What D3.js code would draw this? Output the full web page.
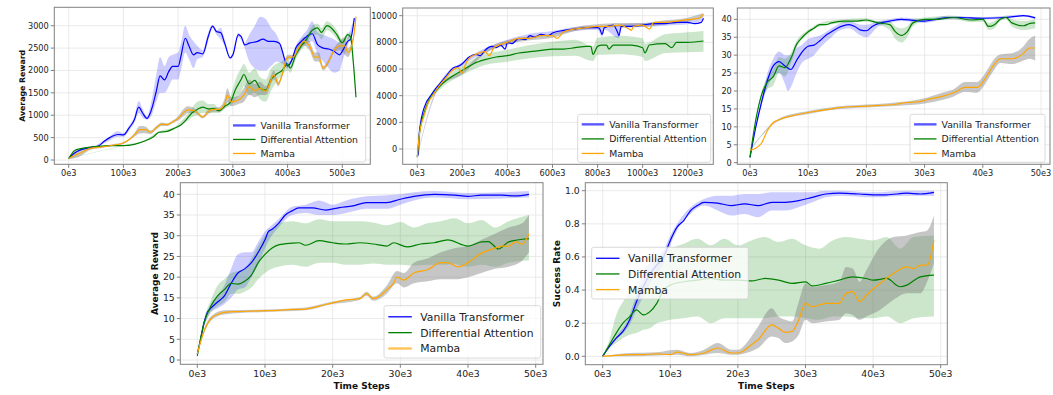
<!DOCTYPE html>
<html>
<head>
<meta charset="utf-8">
<script src="https://cdn.jsdelivr.net/npm/d3@7"></script>
<style>
  body { margin: 0; background: #fff; }
  svg { font-family: "DejaVu Sans", sans-serif; }
</style>
</head>
<body>
<div id="chart"></div>
<script>
// series names
const seriesNames = ["Vanilla Transformer", "Differential Attention", "Mamba"];

// ---- panel 1 (steps in thousands) ----
const p1Vanilla = [[0,30],[10,150],[20,220],[40,280],[55,320],[65,420],[75,500],[90,570],[100,560],[110,710],[120,900],[128,1180],[135,1050],[143,930],[150,1080],[160,1530],[167,1880],[175,1790],[183,1980],[190,2090],[200,2090],[205,2310],[213,2720],[220,2540],[228,2350],[235,2400],[245,2370],[255,2760],[263,2990],[270,2870],[278,2840],[285,2610],[295,2280],[300,2350],[310,2800],[315,2760],[322,2570],[330,2610],[345,2650],[355,2700],[365,2650],[375,2650],[385,2610],[395,2240],[400,2100],[408,2240],[415,2500],[425,2650],[435,2760],[445,2820],[455,2570],[465,2500],[475,2480],[485,2430],[495,2350],[500,2430],[510,2650],[515,2700],[522,3170]];
const p1VanillaBand = [[0,20,40],[20,200,240],[50,290,330],[70,400,480],[90,520,640],[100,520,600],[110,650,760],[120,830,980],[128,1050,1320],[135,950,1150],[143,900,970],[150,960,1250],[160,1300,1900],[167,1500,2300],[175,1500,2100],[183,1650,2300],[190,1800,2350],[200,1800,2400],[205,2000,2600],[213,2400,3000],[220,2250,2800],[228,2050,2650],[235,2250,2550],[245,2300,2450],[255,2650,2850],[263,2950,3020],[270,2800,2900],[278,2700,2950],[285,2550,2700],[295,2250,2310],[300,2300,2400],[310,2750,2850],[320,2550,2600],[330,2200,2800],[340,2050,3000],[350,2000,3200],[360,2000,3150],[370,2100,2950],[380,2200,2800],[390,2150,2500],[400,2050,2150],[408,2200,2300],[415,2450,2550],[425,2550,2750],[435,2600,2900],[445,2650,3100],[455,2350,2850],[465,2200,2800],[475,2050,2750],[485,1950,2700],[495,2000,2600],[500,2200,2550],[510,2550,2750],[522,3150,3200]];
const p1Diff = [[0,30],[10,200],[20,250],[40,290],[60,310],[80,320],[100,320],[120,350],[140,430],[155,520],[165,620],[180,640],[195,720],[205,780],[215,900],[225,1050],[235,1130],[245,1180],[255,1140],[265,1150],[275,1100],[285,1200],[295,1280],[305,1580],[315,1800],[320,1910],[330,1700],[340,1780],[350,1600],[360,1560],[370,1800],[380,1920],[390,2000],[400,2150],[405,2050],[415,2350],[425,2550],[435,2700],[445,2900],[455,2950],[462,2850],[472,3000],[480,2950],[490,2800],[500,2620],[510,2800],[515,2750],[520,2200],[525,1400]];
const p1DiffBand = [[0,20,40],[100,310,330],[140,410,450],[165,600,640],[195,690,750],[215,850,1000],[225,950,1150],[235,1000,1300],[245,1050,1330],[255,1050,1250],[265,1050,1250],[275,1050,1150],[285,1150,1250],[295,1200,1400],[305,1350,1800],[315,1500,2050],[320,1650,2150],[330,1450,1950],[340,1500,2050],[350,1350,1850],[360,1300,1800],[370,1550,2050],[380,1750,2150],[390,1900,2200],[400,2000,2300],[405,1950,2200],[415,2250,2450],[425,2450,2650],[435,2600,2800],[445,2800,3000],[455,2800,3050],[462,2700,2950],[472,2900,3100],[480,2850,3050],[490,2700,2900],[500,2550,2700],[510,2700,2850],[515,2650,2850],[520,2100,2300],[525,1300,1500]];
const p1Mamba = [[0,30],[10,100],[20,150],[40,260],[60,290],[80,330],[100,380],[110,450],[120,560],[130,680],[140,680],[150,620],[160,720],[170,800],[180,790],[190,850],[200,930],[210,1060],[218,1120],[230,1100],[245,960],[255,1080],[265,1130],[275,1130],[285,1250],[290,1450],[297,1300],[310,1340],[320,1450],[330,1640],[340,1550],[350,1600],[360,1540],[375,1900],[383,1700],[390,1900],[400,2300],[410,2300],[420,2500],[430,2650],[440,2550],[450,2300],[457,2300],[465,2050],[475,2200],[485,2450],[495,2550],[505,2550],[510,2400],[520,2700],[525,3200]];
const p1MambaBand = [[0,20,40],[20,80,220],[40,230,290],[60,270,310],[80,310,350],[100,360,400],[120,520,600],[130,590,760],[140,600,750],[150,580,660],[160,680,760],[170,760,840],[180,760,820],[190,820,880],[200,880,980],[210,980,1140],[218,1050,1200],[230,1050,1150],[245,930,990],[255,1030,1130],[265,1080,1180],[275,1080,1180],[285,1150,1380],[290,1300,1600],[297,1200,1400],[310,1250,1430],[320,1300,1600],[330,1450,1800],[340,1400,1700],[350,1450,1750],[360,1450,1650],[375,1800,2000],[383,1650,1750],[390,1850,1950],[400,2250,2350],[410,2250,2350],[420,2400,2600],[430,2550,2750],[440,2450,2650],[450,2200,2400],[457,2200,2400],[465,2000,2100],[475,2150,2250],[485,2400,2500],[495,2450,2650],[505,2350,2750],[510,2300,2500],[520,2650,2750],[525,3150,3250]];

// ---- panel 2 ----
const p2Vanilla = [[0,-600],[5,-300],[8,1000],[15,2000],[25,2800],[40,3500],[60,4000],[80,4500],[100,4900],[130,5500],[160,6100],[180,6200],[200,6400],[230,6900],[260,7100],[280,7000],[300,7400],[330,7700],[350,7600],[370,7800],[390,7500],[400,8000],[420,7900],[450,8300],[480,8200],[500,8500],[520,8400],[550,8600],[580,8500],[600,8700],[650,8900],[700,9000],[750,9100],[800,9100],[810,9000],[820,8600],[830,9100],[870,9300],[890,8700],[895,8500],[905,9200],[950,9200],[1000,9300],[1050,9400],[1100,9400],[1150,9500],[1200,9500],[1230,9400],[1260,9500],[1270,9800]];
const p2VanillaBand = [[0,-650,-550],[100,4800,5000],[200,6250,6550],[300,7250,7550],[400,7800,8200],[500,8350,8650],[600,8550,8850],[700,8850,9150],[800,8950,9250],[820,8400,9100],[830,8950,9250],[895,8300,9300],[905,9050,9350],[1000,9150,9450],[1100,9250,9550],[1200,9350,9650],[1270,9650,9950]];
const p2Diff = [[0,-600],[10,1200],[30,2700],[50,3600],[80,4300],[100,4700],[150,5400],[200,5900],[250,6400],[300,6700],[350,6900],[400,7000],[450,7200],[500,7300],[550,7400],[600,7500],[650,7500],[700,7600],[750,7700],[770,7700],[780,7100],[800,7700],[820,7800],[840,7800],[850,7500],[870,7800],[900,7800],[950,7800],[1000,7600],[1010,7200],[1030,7800],[1100,7900],[1130,7600],[1150,8000],[1200,8000],[1270,8100]];
const p2DiffBand = [[0,-650,-550],[50,3450,3750],[100,4450,4950],[200,5550,6250],[300,6300,7100],[400,6550,7450],[500,6800,7800],[600,6950,8050],[700,7000,8200],[780,6600,7700],[800,7050,8350],[900,7100,8500],[1000,6900,8300],[1010,6600,7900],[1100,7200,8600],[1200,7250,8750],[1270,7300,8850]];
const p2Mamba = [[0,-600],[10,1200],[30,2500],[50,3500],[80,4300],[100,4800],[130,5400],[150,5800],[180,6100],[200,5700],[210,6200],[230,6800],[260,7100],[300,7300],[320,7000],[340,7600],[380,7900],[400,8000],[450,8300],[500,8300],[550,8500],[600,8500],[620,8300],[650,8800],[700,9000],[750,9100],[800,9200],[850,9200],[900,9300],[940,9000],[950,8900],[960,9200],[1000,9300],[1030,9000],[1050,9500],[1100,9500],[1150,9600],[1200,9700],[1250,9800],[1270,10100]];
const p2MambaBand = [[0,-650,-550],[100,4700,4900],[200,5600,5850],[300,7150,7450],[400,7850,8150],[500,8150,8450],[600,8350,8650],[700,8850,9150],[800,9050,9350],[900,9150,9450],[1000,9150,9450],[1100,9350,9650],[1200,9550,9850],[1270,9950,10200]];

// ---- panel 3 ----
const p3Vanilla = [[0,1.5],[1,10],[2,17],[3,23],[4,27],[5,28.2],[6,27],[7,26],[8,28.5],[9,31],[10,32.5],[11,32.8],[12,34],[13,35.5],[14,36.5],[15,37.5],[17,38.5],[18,38],[19,37],[20,36.8],[21,38],[22,38.8],[24,39.5],[26,40],[28,39.7],[30,39.5],[32,40],[34,40.5],[36,40.5],[40,40.3],[44,40.5],[47,41],[49,40.4]];
const p3VanillaBand = [[0,1.5,1.5],[2,16,18],[3,21,25],[4,24,29],[5,25,31],[6,22,30],[6.5,20,30],[7,21,30],[8,25,32],[9,28,33],[10,29,34.5],[11,30,35],[12,32,35.5],[14,35,37.5],[15,36.5,38.5],[17,37.5,39.5],[19,35.5,38.5],[20,35,38.5],[22,38,39.5],[24,39,40],[26,39.5,40.5],[30,39,40],[34,40,41],[40,40,40.6],[47,40.7,41.3],[49,40,40.8]];
const p3Diff = [[0,1.5],[1,12],[2,19],[3,22.5],[4,24],[5,27],[6,26.5],[7,29],[8,33],[9,35],[10,36.5],[11,37.5],[12,38.5],[13,38.5],[14,39],[16,39.5],[18,39.5],[20,39.8],[22,39],[24,38.5],[25,36.5],[26,35.5],[27,36.5],[28,39],[30,40],[32,40],[35,40.5],[38,39.8],[40,40],[41,38],[42,38.5],[43,40],[44,40.5],[45,39],[47,38.2],[48,38.8],[49,39]];
const p3DiffBand = [[0,1.5,1.5],[2,18,20],[3,20.5,24],[4,21.5,26],[5,25,29.5],[6,24,29],[7,27.5,30.5],[8,32,34],[10,36,37],[12,38,39],[16,39,40],[20,39.3,40.3],[22,38.5,39.5],[24,37,39.5],[25,34.5,38],[26,33.5,37.5],[27,35,38],[28,38,40],[30,39.5,40.5],[35,40,41],[38,39.2,40.4],[40,39.3,40.5],[41,37,39],[42,37.5,39.5],[43,39.5,40.5],[44,40,41],[45,38,40],[47,37,39.5],[49,37.5,40]];
const p3Mamba = [[0,3.5],[1,4],[2,5.5],[3,9],[4,11.2],[5,12],[7,13],[10,14],[12,14.5],[15,15.3],[20,15.8],[25,16.3],[27,16.8],[29,17],[31,17.8],[33,18.5],[35,19.5],[37,21],[39,21],[40,22.5],[41,25],[42,27.5],[43,29],[45,29],[47,30.5],[48,32],[49,32]];
const p3MambaBand = [[0,3.3,3.7],[5,11.7,12.3],[10,13.6,14.4],[15,14.9,15.7],[20,15.4,16.2],[25,15.8,16.8],[30,16.5,18],[33,17.5,19.5],[35,18.5,20.5],[37,19.8,22.5],[39,19.5,22.5],[40,21,24],[41,23.5,26.5],[42,26,29],[43,27.8,30.2],[45,27.5,30.5],[47,28.5,32.5],[48,29,34.5],[49,28.5,35.5]];

// ---- panel 4 ----
const p4Vanilla = [[0,1.5],[0.5,5],[1,9],[1.5,11.5],[2,12.5],[3,14],[4,15.5],[5,18.5],[6,21],[7,22],[8,23.5],[9,26],[10,29],[10.5,31],[11,31.5],[12,33],[13,35],[14,36],[15,36.7],[17,36.7],[19,36.2],[21,36.8],[23,37.2],[25,38],[27,38],[28,38],[30,38.8],[32,39.5],[35,40],[38,39.8],[40,39.5],[42,39.8],[45,39.8],[47,39.6],[49,40]];
const p4VanillaBand = [[0,1.5,1.5],[1,8,9.5],[2,11.5,13.5],[3,12.5,15.5],[4,13.5,18],[5,15,22],[6,17,25.5],[7,17.5,26],[8,20,26],[9,23,28.5],[10,27,31],[11,30,32.5],[12,32,34],[14,35,37],[16,35.5,37.5],[18,35,38.5],[20,35,37.5],[22,35.5,38.5],[25,36.5,39.5],[28,36.5,39.8],[30,37.5,40],[32,38.5,40.5],[35,39.2,40.8],[40,38.8,40.3],[45,39,40.5],[49,39.2,40.8]];
const p4Diff = [[0,1],[1,9],[2,13],[3,15.5],[4,17],[5,18.5],[6,18.3],[7,19],[8,20.5],[9,23.5],[10,25.5],[11,27],[12,27.8],[14,28.2],[15,28.3],[16,27.7],[18,28.8],[20,28.3],[22,28],[24,28.3],[26,28],[28,27.5],[29,28.3],[31,27.3],[33,28],[35,28.3],[37,29],[40,27.5],[42,28.5],[43,28.6],[44.5,26.8],[46,28.5],[49,29.3]];
const p4DiffBand = [[0,1,1],[1,8,10],[2,11.5,14.5],[3,13,18],[4,14,19.5],[5,16,21],[6,16,21.5],[7,16.5,22],[8,17.5,24.5],[9,19.5,27.5],[10,21,30],[11,22,31.5],[12,22.5,33],[14,23,33.5],[16,22.5,33],[18,23.5,34],[20,23.5,33.5],[22,23,33.5],[24,23,33.5],[26,23.3,33.2],[28,23,32.5],[30,23,33.3],[32,22.8,32],[34,23,33],[36,23,33.5],[38,23.2,34.2],[40,22.5,33],[42,23,33.8],[44,22.5,32],[46,23.5,33.5],[49,24,35]];
const p4Mamba = [[0,1.5],[1,7],[2,10],[3,11],[4,11.5],[6,11.7],[8,11.8],[10,11.9],[12,12],[14,12.2],[16,12.3],[18,13],[20,13.8],[22,14.5],[24,14.8],[25,16],[26,14.8],[27,15.5],[28,17],[29,18.5],[29.5,20],[30.5,19.3],[32,21],[34,21.8],[36,23.5],[37,23.5],[38.5,22.5],[40,23.5],[42,25.8],[44,27],[45,27.5],[46,27.5],[47,28.5],[48,28],[49,30.5]];
const p4MambaBand = [[0,1.5,1.5],[1,6.5,7.5],[2,9.5,10.5],[4,11,12],[10,11.6,12.2],[16,12,12.7],[20,13.5,14.1],[24,14.5,15.2],[25,15.5,16.5],[26,14.3,15.3],[28,16,18],[29.5,18.5,21.5],[30.5,17.5,21],[32,18.5,23.5],[34,19,24.5],[36,19.5,26],[38,19.5,27],[40,20,27.5],[42,21,29],[44,22,30.5],[46,22.5,32],[48,24,33],[49,26,35]];

// ---- panel 5 ----
const p5Vanilla = [[0,0],[1,0.06],[2,0.11],[3,0.15],[4,0.22],[5,0.33],[6,0.42],[7,0.5],[8,0.55],[9,0.6],[10,0.7],[11,0.78],[12,0.82],[13,0.88],[14,0.91],[15,0.93],[17,0.925],[19,0.91],[21,0.92],[23,0.91],[25,0.93],[27,0.93],[29,0.94],[31,0.96],[33,0.98],[35,0.985],[38,0.98],[40,0.975],[42,0.975],[45,0.985],[47,0.98],[49,0.99]];
const p5VanillaBand = [[0,0,0],[2,0.1,0.12],[4,0.19,0.25],[5,0.28,0.38],[6,0.36,0.5],[7,0.44,0.57],[8,0.5,0.6],[9,0.56,0.64],[10,0.67,0.73],[11,0.76,0.8],[13,0.86,0.9],[15,0.91,0.95],[17,0.88,0.97],[19,0.85,0.97],[21,0.86,0.98],[23,0.84,0.98],[25,0.88,0.99],[27,0.88,0.99],[29,0.9,0.99],[31,0.93,0.99],[33,0.96,1.0],[35,0.97,1.0],[40,0.96,0.99],[45,0.97,1.0],[49,0.97,1.0]];
const p5Diff = [[0,0],[1,0.07],[2,0.14],[3,0.2],[4,0.24],[5,0.28],[6,0.25],[7,0.27],[8,0.32],[9,0.4],[10,0.43],[12,0.45],[14,0.46],[16,0.47],[18,0.46],[20,0.46],[22,0.455],[24,0.47],[26,0.46],[28,0.44],[30,0.45],[31,0.425],[33,0.44],[35,0.46],[37,0.48],[39,0.47],[40,0.46],[42,0.47],[44,0.42],[45,0.43],[47,0.48],[49,0.49]];
const p5DiffBand = [[0,0,0],[1,0.05,0.1],[2,0.08,0.25],[3,0.11,0.33],[4,0.13,0.38],[5,0.14,0.42],[6,0.16,0.44],[7,0.17,0.5],[8,0.2,0.58],[9,0.21,0.63],[10,0.22,0.65],[12,0.23,0.68],[14,0.24,0.71],[16,0.2,0.67],[18,0.23,0.71],[20,0.23,0.67],[22,0.23,0.7],[24,0.23,0.72],[26,0.24,0.69],[28,0.24,0.71],[30,0.23,0.67],[32,0.22,0.65],[34,0.24,0.7],[36,0.24,0.72],[38,0.23,0.71],[40,0.23,0.7],[42,0.24,0.72],[44,0.2,0.65],[46,0.23,0.72],[49,0.24,0.73]];
const p5Mamba = [[0,0],[2,0.005],[4,0.01],[6,0.01],[8,0.015],[10,0.01],[11,0.025],[13,0.01],[15,0.02],[17,0.05],[19,0.02],[20,0.02],[22,0.07],[23,0.1],[25,0.19],[26,0.17],[27,0.145],[28,0.15],[29,0.22],[30,0.32],[31,0.3],[33,0.32],[35,0.32],[36,0.38],[37,0.39],[38,0.33],[39,0.37],[41,0.44],[43,0.5],[45,0.54],[46,0.53],[47,0.55],[48,0.55],[49,0.7]];
const p5MambaBand = [[0,0,0],[4,0.0,0.02],[8,0.005,0.025],[11,0.01,0.04],[13,0.0,0.02],[15,0.01,0.04],[17,0.02,0.08],[19,0.01,0.04],[20,0.01,0.04],[22,0.03,0.12],[23,0.05,0.18],[25,0.12,0.29],[26,0.11,0.24],[27,0.08,0.22],[28,0.09,0.21],[29,0.13,0.33],[30,0.22,0.44],[31,0.2,0.42],[33,0.21,0.43],[35,0.22,0.45],[36,0.26,0.54],[37,0.25,0.53],[38,0.22,0.45],[39,0.24,0.52],[41,0.28,0.66],[43,0.34,0.72],[45,0.38,0.73],[46,0.38,0.74],[47,0.38,0.75],[48,0.45,0.76],[49,0.56,0.85]];

// tick values
const p1XTicks = [0,100,200,300,400,500], p1YTicks = [0,500,1000,1500,2000,2500,3000];
const p2XTicks = [0,200,400,600,800,1000,1200], p2YTicks = [0,2000,4000,6000,8000,10000];
const p35XTicks = [0,10,20,30,40,50], p34YTicks = [0,5,10,15,20,25,30,35,40];
const p5YTicks = [0,0.2,0.4,0.6,0.8,1.0];

const lineColors = ["#0000ff", "#008000", "#ffa500"];
const bandColors = ["rgba(0,0,255,0.2)", "rgba(0,128,0,0.2)", "rgba(128,128,128,0.45)"];

const W = 1053, H = 395;
const svg = d3.select("#chart").append("svg").attr("width", W).attr("height", H);

const panels = [
  { frame: [54.3,7.3,370.3,164.3], xr: [0,500,68.7,342.3], yr: [0,3000,160,25.7], xt: p1XTicks, yt: p1YTicks, yfmt: d => d,
    series: [[p1Vanilla,p1VanillaBand],[p1Diff,p1DiffBand],[p1Mamba,p1MambaBand]],
    small: true, ylabel: "Average Reward", ylx: 22, leg: [229,115.7,136.7,46.3], thick: 0 },
  { frame: [402.7,8,713.3,164.3], xr: [0,1200,417.3,687.7], yr: [0,10000,149,15.7], xt: p2XTicks, yt: p2YTicks, yfmt: d => d,
    series: [[p2Vanilla,p2VanillaBand],[p2Diff,p2DiffBand],[p2Mamba,p2MambaBand]],
    small: true, leg: [577.7,114.3,133,48], thick: 0 },
  { frame: [737.3,8,1050,164.3], xr: [0,50,750,1041], yr: [0,40,162.7,19.3], xt: p35XTicks, yt: p34YTicks, yfmt: d => d,
    series: [[p3Vanilla,p3VanillaBand],[p3Diff,p3DiffBand],[p3Mamba,p3MambaBand]],
    small: true, leg: [910,114.3,135,48], thick: 0 },
  { frame: [180.3,182.7,543,364.3], xr: [0,50,197.3,535.7], yr: [0,40,360,194.3], xt: p35XTicks, yt: p34YTicks, yfmt: d => d,
    series: [[p4Vanilla,p4VanillaBand],[p4Diff,p4DiffBand],[p4Mamba,p4MambaBand]],
    small: false, ylabel: "Average Reward", ylx: 155, xlabel: "Time Steps", leg: [384,305.7,156.7,52.3], thick: 2 },
  { frame: [585.3,182.7,947.3,364.7], xr: [0,50,602.7,940.7], yr: [0,1,356.3,190.7], xt: p35XTicks, yt: p5YTicks, yfmt: d3.format(".1f"),
    series: [[p5Vanilla,p5VanillaBand],[p5Diff,p5DiffBand],[p5Mamba,p5MambaBand]],
    small: false, ylabel: "Success Rate", ylx: 556.7, xlabel: "Time Steps", leg: [591.7,247.3,156.6,51.7], thick: -1 }
];

panels.forEach((p, i) => {
  const [fx0, fy0, fx1, fy1] = p.frame;
  const x = d3.scaleLinear().domain([p.xr[0], p.xr[1]]).range([p.xr[2], p.xr[3]]);
  const y = d3.scaleLinear().domain([p.yr[0], p.yr[1]]).range([p.yr[2], p.yr[3]]);
  const tickFont = p.small ? 8.2 : 9.3;
  const legFont = p.small ? 9.3 : 10.8;
  const g = svg.append("g");

  g.append("clipPath").attr("id", "clip" + i)
    .append("rect").attr("x", fx0).attr("y", fy0).attr("width", fx1 - fx0).attr("height", fy1 - fy0);

  // grid
  g.append("g").selectAll("line").data(p.xt).join("line")
    .attr("x1", d => x(d)).attr("x2", d => x(d)).attr("y1", fy0).attr("y2", fy1)
    .attr("stroke", "#e5e5e5").attr("stroke-width", 0.8);
  g.append("g").selectAll("line").data(p.yt).join("line")
    .attr("y1", d => y(d)).attr("y2", d => y(d)).attr("x1", fx0).attr("x2", fx1)
    .attr("stroke", "#e5e5e5").attr("stroke-width", 0.8);

  const plot = g.append("g").attr("clip-path", "url(#clip" + i + ")");
  const area = d3.area().x(d => x(d[0])).y0(d => y(d[1])).y1(d => y(d[2])).curve(d3.curveMonotoneX);
  const line = d3.line().x(d => x(d[0])).y(d => y(d[1])).curve(d3.curveMonotoneX);

  p.series.forEach((s, k) => {
    plot.append("path").attr("d", area(s[1])).attr("fill", bandColors[k]).attr("stroke", "none");
  });
  p.series.forEach((s, k) => {
    plot.append("path").attr("d", line(s[0])).attr("fill", "none")
      .attr("stroke", lineColors[k]).attr("stroke-width", 1.2);
  });

  // frame
  g.append("rect").attr("x", fx0).attr("y", fy0).attr("width", fx1 - fx0).attr("height", fy1 - fy0)
    .attr("fill", "none").attr("stroke", "#808080").attr("stroke-width", 1);

  // x ticks
  const xt = g.append("g").selectAll("g").data(p.xt).join("g");
  xt.append("line").attr("x1", d => x(d)).attr("x2", d => x(d)).attr("y1", fy1).attr("y2", fy1 + 3.5)
    .attr("stroke", "#808080");
  xt.append("text").attr("x", d => x(d)).attr("y", fy1 + 5.5 + tickFont * 0.75)
    .attr("text-anchor", "middle").attr("font-size", tickFont).attr("fill", "#222")
    .text(d => d + "e3");

  // y ticks
  const yt = g.append("g").selectAll("g").data(p.yt).join("g");
  yt.append("line").attr("y1", d => y(d)).attr("y2", d => y(d)).attr("x1", fx0).attr("x2", fx0 - 3.5)
    .attr("stroke", "#808080");
  yt.append("text").attr("x", fx0 - 5.5).attr("y", d => y(d)).attr("dy", "0.36em")
    .attr("text-anchor", "end").attr("font-size", tickFont).attr("fill", "#222")
    .text(d => p.yfmt(d));

  if (p.ylabel) {
    const cy = (fy0 + fy1) / 2;
    g.append("text").attr("transform", "translate(" + p.ylx + "," + cy + ") rotate(-90)")
      .attr("text-anchor", "middle").attr("dy", "0.35em")
      .attr("font-size", p.small ? 7.8 : 9).attr("font-weight", "bold").attr("fill", "#111")
      .text(p.ylabel);
  }
  if (p.xlabel) {
    g.append("text").attr("x", (fx0 + fx1) / 2).attr("y", 388.5)
      .attr("text-anchor", "middle").attr("font-size", 9).attr("font-weight", "bold").attr("fill", "#111")
      .text(p.xlabel);
  }

  // legend
  const [lx, ly, lw, lh] = p.leg;
  const lg = g.append("g");
  lg.append("rect").attr("x", lx).attr("y", ly).attr("width", lw).attr("height", lh).attr("rx", 2)
    .attr("fill", "rgba(255,255,255,0.8)").attr("stroke", "#d0d0d0").attr("stroke-width", 0.8);
  const rowH = lh / 3.3;
  seriesNames.forEach((name, k) => {
    const ry = ly + rowH * 0.65 + rowH * k + (p.small ? 0.6 : 0.8);
    const hx0 = lx + (p.small ? 4 : 4.3), hx1 = hx0 + (p.small ? 22.5 : 23.5);
    lg.append("line").attr("x1", hx0).attr("x2", hx1).attr("y1", ry).attr("y2", ry)
      .attr("stroke", lineColors[k]).attr("stroke-width", k === p.thick ? 2.4 : 1.3)
      .attr("stroke-opacity", k === p.thick ? 0.65 : 1);
    lg.append("text").attr("x", hx1 + (p.small ? 5 : 8.5)).attr("y", ry).attr("dy", "0.36em")
      .attr("font-size", legFont).attr("fill", "#222").text(name);
  });
});
</script>
</body>
</html>
